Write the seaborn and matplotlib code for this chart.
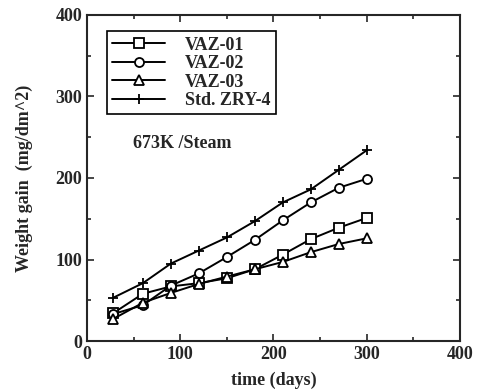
import pandas as pd
import numpy as np
import matplotlib
matplotlib.use("Agg")
import matplotlib.pyplot as plt
import seaborn as sns

# data
days = [28, 60, 90, 120, 150, 180, 210, 240, 270, 300]
vaz01 = [34, 58, 67, 71, 77, 88, 106, 125, 139, 151]
vaz02 = [33, 44, 68, 83, 103, 124, 148, 170, 188, 199]
vaz03 = [27, 47, 59, 70, 79, 88, 97, 109, 119, 126]
zry4 = [53, 71, 95, 111, 127, 147, 170, 186, 210, 234]
names = ["VAZ-01", "VAZ-02", "VAZ-03", "Std. ZRY-4"]
marks = ["s", "o", "^", "+"]

sns.set_style("ticks")
plt.rcParams["font.family"] = ["Liberation Serif", "DejaVu Serif"]
plt.rcParams["font.weight"] = "bold"

fig = plt.figure(figsize=(4.91, 3.92), dpi=100)
ax = fig.add_axes([0.177, 0.130, 0.760, 0.832])

for n, v, m in zip(names, [vaz01, vaz02, vaz03, zry4], marks):
    df = pd.DataFrame({"time": days, "gain": v})
    sns.lineplot(data=df, x="time", y="gain", marker=m, color="black",
                 markersize=6.5, markerfacecolor="white",
                 markeredgecolor="black", markeredgewidth=1.3,
                 linewidth=1.4, label=n, ax=ax)

ax.set_xlim(0, 400)
ax.set_ylim(0, 400)
ax.set_xticks([0, 100, 200, 300, 400])
ax.set_yticks([0, 100, 200, 300, 400])
ax.set_xticks([50, 150, 250, 350], minor=True)
ax.set_yticks([50, 150, 250, 350], minor=True)
ax.tick_params(which="both", direction="in", top=True, right=True,
               labelsize=13, width=1.2)
ax.tick_params(which="major", length=5)
ax.tick_params(which="minor", length=3)
for s in ax.spines.values():
    s.set_linewidth(1.5)

ax.set_xlabel("time (days)", fontsize=13, fontweight="bold", labelpad=6)
ax.set_ylabel("Weight gain  (mg/dm^2)", fontsize=13, fontweight="bold", labelpad=16)
ax.text(49, 237, "673K /Steam", fontsize=13, fontweight="bold")

leg = ax.legend(loc="upper left", bbox_to_anchor=(0.054, 0.95),
                borderaxespad=0, prop={"size": 13, "weight": "bold"},
                handlelength=2.9, handletextpad=1.1, labelspacing=0.08,
                borderpad=0.3, fancybox=False, framealpha=1,
                edgecolor="black")
leg.get_frame().set_linewidth(1.2)

fig.savefig("out.png", dpi=100)
